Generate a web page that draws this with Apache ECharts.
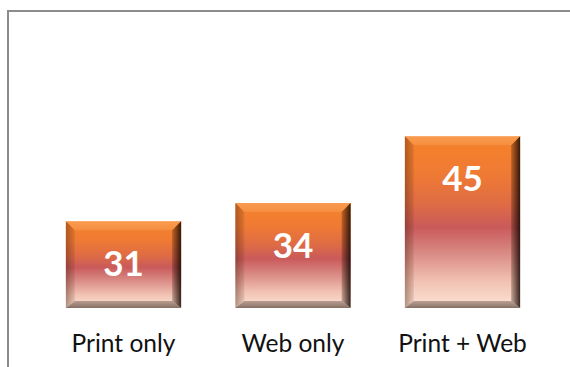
<!DOCTYPE html>
<html>
<head>
<meta charset="utf-8">
<script src="https://cdn.jsdelivr.net/npm/echarts@6/dist/echarts.min.js"></script>
<style>
  html, body { margin: 0; padding: 0; background: #ffffff; }
  #chart { width: 570px; height: 367px; }
</style>
</head>
<body>
<div id="chart"></div>
<script>
// Audience by channel
const categories = ['Print only', 'Web only', 'Print + Web'];
const values = [31, 34, 45];

// Value axis range (axis itself is hidden)
const yMin = 16.7;
const yMax = 50;
const BAR_RATIO = 0.68;

const chart = echarts.init(document.getElementById('chart'), null, { renderer: 'svg' });

const barFill = new echarts.graphic.LinearGradient(0, 0, 0, 1, [
  { offset: 0.0, color: '#F6822A' },
  { offset: 0.22, color: '#EF7A34' },
  { offset: 0.4, color: '#DE6B45' },
  { offset: 0.53, color: '#C95A5A' },
  { offset: 0.68, color: '#D98A84' },
  { offset: 0.85, color: '#F2C3B4' },
  { offset: 1.0, color: '#FCE4D6' }
]);

// Bevel edges drawn over each bar, placed from the axis coordinates
function renderBevel(params, api) {
  const idx = api.value(0);
  const val = api.value(1);
  const top = api.coord([idx, val]);
  const base = api.coord([idx, yMin]);
  const w = api.size([1, 0])[0] * BAR_RATIO;
  const x0 = top[0] - w / 2, x1 = top[0] + w / 2;
  const y0 = top[1], y1 = base[1];
  const b = 9, bb = 7;
  return {
    type: 'group',
    children: [
      { // top edge
        type: 'polygon',
        shape: { points: [[x0, y0], [x1, y0], [x1 - b, y0 + b], [x0 + b, y0 + b]] },
        style: { fill: new echarts.graphic.LinearGradient(0, 0, 0, 1, [
          { offset: 0, color: 'rgba(255,200,140,0.35)' },
          { offset: 1, color: 'rgba(255,220,170,0.15)' }
        ]) }
      },
      { // left edge
        type: 'polygon',
        shape: { points: [[x0, y0], [x0 + b, y0 + b], [x0 + b, y1 - bb], [x0, y1]] },
        style: { fill: new echarts.graphic.LinearGradient(0, 0, 1, 0, [
          { offset: 0, color: 'rgba(70,30,10,0.4)' },
          { offset: 1, color: 'rgba(70,30,10,0.1)' }
        ]) }
      },
      { // right edge
        type: 'polygon',
        shape: { points: [[x1, y0], [x1 - b, y0 + b], [x1 - b, y1 - bb], [x1, y1]] },
        style: { fill: new echarts.graphic.LinearGradient(0, 0, 1, 0, [
          { offset: 0, color: 'rgba(40,15,5,0.25)' },
          { offset: 1, color: 'rgba(20,5,0,0.85)' }
        ]) }
      },
      { // bottom edge
        type: 'polygon',
        shape: { points: [[x0, y1], [x0 + b, y1 - bb], [x1 - b, y1 - bb], [x1, y1]] },
        style: { fill: new echarts.graphic.LinearGradient(0, 0, 0, 1, [
          { offset: 0, color: 'rgba(110,85,75,0.45)' },
          { offset: 1, color: 'rgba(80,60,50,0.7)' }
        ]) }
      }
    ]
  };
}

chart.setOption({
  backgroundColor: '#ffffff',
  animation: false,
  graphic: [{
    type: 'rect',
    shape: { x: 8, y: 11, width: 620, height: 420 },
    style: { fill: 'none', stroke: '#8c8c8c', lineWidth: 2 },
    z: 100
  }],
  grid: { left: 38.75, right: 22.75, top: 106, bottom: 59 },
  xAxis: {
    type: 'category',
    data: categories,
    axisLine: { show: false },
    axisTick: { show: false },
    axisLabel: {
      margin: 22,
      fontFamily: 'Lato',
      fontSize: 24.5,
      color: '#111111'
    }
  },
  yAxis: {
    type: 'value',
    min: yMin,
    max: yMax,
    show: false,
    splitLine: { show: false }
  },
  series: [
    {
      type: 'bar',
      data: values,
      barWidth: (BAR_RATIO * 100) + '%',
      itemStyle: { color: barFill },
      label: {
        show: true,
        position: 'insideTop',
        distance: 23,
        color: '#ffffff',
        fontFamily: 'Lato',
        fontWeight: 'bold',
        fontSize: 35
      },
      z: 2
    },
    {
      type: 'custom',
      data: categories.map((c, i) => [i, values[i]]),
      renderItem: renderBevel,
      silent: true,
      z: 3
    }
  ]
});
</script>
</body>
</html>
